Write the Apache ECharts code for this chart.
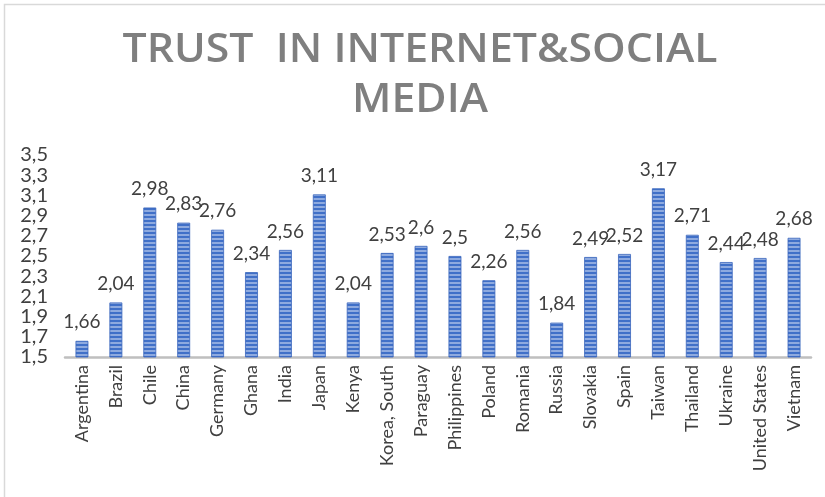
<!DOCTYPE html>
<html>
<head>
<meta charset="utf-8">
<script src="https://cdn.jsdelivr.net/npm/echarts@6/dist/echarts.min.js"></script>
<style>
  html, body { margin: 0; padding: 0; background: #ffffff; }
  #chart { width: 825px; height: 497px; }
</style>
</head>
<body>
<div id="chart"></div>
<script>
// Countries and their average trust score in internet & social media
const categories = [
  'Argentina', 'Brazil', 'Chile', 'China', 'Germany', 'Ghana', 'India', 'Japan',
  'Kenya', 'Korea, South', 'Paraguay', 'Philippines', 'Poland', 'Romania', 'Russia',
  'Slovakia', 'Spain', 'Taiwan', 'Thailand', 'Ukraine', 'United States', 'Vietnam'
];
const trustValues = [
  1.66, 2.04, 2.98, 2.83, 2.76, 2.34, 2.56, 3.11,
  2.04, 2.53, 2.6, 2.5, 2.26, 2.56, 1.84,
  2.49, 2.52, 3.17, 2.71, 2.44, 2.48, 2.68
];
const yTicks = { min: 1.5, max: 3.5, step: 0.2 };
const titleLines = ['TRUST  IN INTERNET&SOCIAL', 'MEDIA'];

// decimal comma, no trailing zeros
const fmt = v => String(Math.round(v * 100) / 100).replace('.', ',');

// horizontal striped fill for the bars
function stripePattern() {
  const c = document.createElement('canvas');
  c.width = 4; c.height = 4;
  const ctx = c.getContext('2d');
  ctx.fillStyle = '#8eaadf';
  ctx.fillRect(0, 0, 4, 4);
  ctx.fillStyle = '#4070c8';
  ctx.fillRect(0, 0, 4, 2);
  return c;
}

const font = 'Lato, "Open Sans", sans-serif';
const titleFont = '600 40px "Open Sans", sans-serif';

// widen the title slightly so the first line spans the intended width
const titleWidth = 595;
const measureCtx = document.createElement('canvas').getContext('2d');
measureCtx.font = titleFont;
const titleScale = titleWidth / measureCtx.measureText(titleLines[0]).width;

const chart = echarts.init(document.getElementById('chart'), null, { renderer: 'canvas' });

chart.setOption({
  animation: false,
  backgroundColor: '#ffffff',
  graphic: [
    {
      type: 'rect',
      shape: { x: 4.5, y: 4.5, width: 840, height: 520 },
      style: { fill: 'none', stroke: '#d9d9d9', lineWidth: 1.5 },
      silent: true
    },
    ...titleLines.map((line, i) => ({
      type: 'text',
      x: 420,
      y: 51 + i * 50,
      scaleX: titleScale,
      silent: true,
      style: {
        text: line,
        font: titleFont,
        fill: '#7f7f7f',
        textAlign: 'center',
        textVerticalAlign: 'middle'
      }
    }))
  ],
  grid: { left: 65, right: 14, top: 155, bottom: 140, containLabel: false },
  xAxis: {
    type: 'category',
    data: categories,
    axisLine: { show: true, lineStyle: { color: '#bfbfbf', width: 2.5 } },
    axisTick: { show: false },
    axisLabel: {
      interval: 0,
      rotate: 90,
      margin: 8,
      fontFamily: font,
      fontSize: 18,
      color: '#404040'
    }
  },
  yAxis: {
    type: 'value',
    min: yTicks.min,
    max: yTicks.max,
    interval: yTicks.step,
    axisLine: { show: false },
    axisTick: { show: false },
    splitLine: { show: false },
    axisLabel: {
      margin: 17,
      fontFamily: font,
      fontSize: 20,
      color: '#404040',
      formatter: v => fmt(v)
    }
  },
  series: [{
    type: 'bar',
    data: trustValues,
    barWidth: '38%',
    itemStyle: {
      color: { image: stripePattern(), repeat: 'repeat' },
      borderColor: '#3a66bd',
      borderWidth: 0.8
    },
    label: {
      show: true,
      position: 'top',
      distance: 9,
      fontFamily: font,
      fontSize: 19,
      color: '#404040',
      formatter: p => fmt(p.value)
    }
  }]
});
</script>
</body>
</html>
